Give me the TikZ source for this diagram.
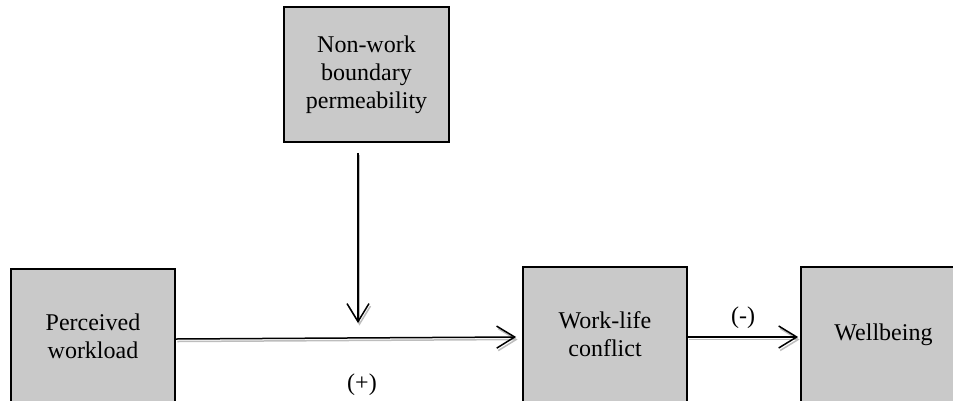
\documentclass[tikz,border=0pt]{standalone}
\usepackage{fontspec}
\setmainfont{Liberation Serif}
\usetikzlibrary{arrows.meta}
\definecolor{boxgray}{HTML}{C9C9C9}
\definecolor{shade}{HTML}{BDBDBD}
\tikzset{
  varbox/.style={draw=black, line width=1.8pt, fill=boxgray, minimum width=164pt,
    minimum height=135pt, inner sep=0pt, align=center, text width=150pt,
    font=\fontsize{24}{28}\selectfont},
  lbl/.style={inner sep=0pt, font=\fontsize{24}{28}\selectfont},
  path/.style={line width=1.5pt, -{Straight Barb[length=18pt,width=22pt,line width=1.5pt]},
    preaction={draw=shade, line width=1.5pt,
      -{Straight Barb[length=18pt,width=22pt,line width=1.5pt]},
      transform canvas={shift={(1.5pt,-2.5pt)}}}}
}
\begin{document}
\begin{tikzpicture}[x=1pt,y=-1pt]
  \useasboundingbox (0,0) rectangle (953,400);
  \clip (0,0) rectangle (953,400);
  % variables
  \node[varbox, minimum width=165pt] (nw) at (366.5,74.5) {Non-work\\boundary\\permeability};
  \node[varbox] (pw) at (93,336.5) {Perceived\\workload};
  \node[varbox] (wl) at (605,334.5) {Work-life\\conflict};
  \node[varbox, minimum width=165pt] (wb) at (883.5,334.5) {Wellbeing};
  % moderation target on the main path
  \coordinate (mod) at (358,323);
  % paths
  \draw[path] ([yshift=-2.5pt]pw.east) -- ([yshift=-2.5pt,xshift=-6pt]wl.west);
  \draw[path] ([xshift=-8.5pt,yshift=-10pt]nw.south) -- (mod);
  \draw[path] ([yshift=-2.5pt]wl.east) -- ([yshift=-2.5pt,xshift=-2pt]wb.west);
  % signs
  \node[lbl] (plus) at (362,385) {(+)};
  \node[lbl] (minus) at (743,318) {(-)};
\end{tikzpicture}
\end{document}
